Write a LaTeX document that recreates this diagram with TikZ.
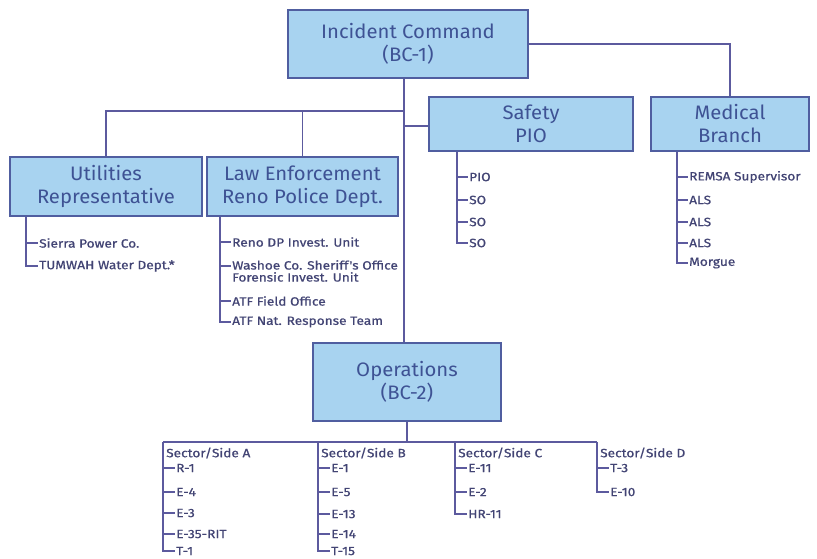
\documentclass[tikz,border=0pt]{standalone}
\usepackage{fontspec}
\setmainfont{Fira Sans}
\newfontfamily\boxfont[FakeStretch=1.04]{Fira Sans}
\newfontfamily\itemfont[FakeStretch=1.14,FakeBold=0.7]{Fira Sans}
\definecolor{boxfill}{RGB}{168,211,240}
\definecolor{boxline}{RGB}{80,94,160}
\definecolor{boxtext}{RGB}{62,82,148}
\definecolor{linecol}{RGB}{92,90,158}
\definecolor{itemtext}{RGB}{66,68,116}
\begin{document}
\begin{tikzpicture}[x=1pt,y=-1pt,
  box/.style={draw=boxline,line width=1.6pt,fill=boxfill,text=boxtext,align=center,
    font=\boxfont\fontsize{19.5}{23}\selectfont,inner sep=0pt},
  item/.style={anchor=west,inner sep=1pt,text=itemtext,font=\itemfont\fontsize{12}{12}\selectfont},
  sect/.style={anchor=west,inner sep=1pt,text=itemtext,font=\itemfont\fontsize{12}{13}\selectfont},
  conn/.style={draw=linecol,line width=1.2pt}]
\useasboundingbox (0,0) rectangle (817,558);
\fill[white] (0,0) rectangle (817,558);

% boxes
\node[box,minimum width=240pt,minimum height=68pt] (ic) at (408,44) {Incident Command\\(BC-1)};
\node[box,minimum width=192pt,minimum height=59pt] (util) at (106,186.5) {Utilities\\Representative};
\node[box,minimum width=191pt,minimum height=59pt] (law) at (302.5,186.5) {Law Enforcement\\Reno Police Dept.};
\node[box,minimum width=204pt,minimum height=54pt] (safety) at (531,124) {Safety\\PIO};
\node[box,minimum width=158pt,minimum height=54pt] (med) at (730,124) {Medical\\Branch};
\node[box,minimum width=188pt,minimum height=78pt] (ops) at (407,382) {Operations\\(BC-2)};

% main connectors
\coordinate (trunk) at (404,0);
\coordinate (j1) at (404,111);
\coordinate (j2) at (404,126);
\draw[conn] (ic.south -| trunk) -- (ops.north -| trunk);
\draw[conn] (util.north) |- (j1);
\draw[conn] (law.north) -- (law.north |- j1);
\draw[conn] (j2) -- (safety.west |- j2);
\draw[conn] (ic.east) -| (med.north);

% Utilities items
\coordinate (us) at (26,0);
\node[item] (u1) at (38,243) {Sierra Power Co.};
\node[item] (u2) at (38,266) {TUMWAH Water Dept.*};
\draw[conn] (util.south -| us) |- (u2.west);
\draw[conn] (us |- u1.west) -- (u1.west);

% Law items
\coordinate (ls) at (220,0);
\node[item] (l1) at (231,242) {Reno DP Invest. Unit};
\node[item,anchor=north west,align=left] (l2) at (231,259) {Washoe Co. Sheriff's Office\\Forensic Invest. Unit};
\coordinate (l2t) at (231,266);
\node[item] (l3) at (231,301) {ATF Field Office};
\node[item] (l4) at (231,322) {ATF Nat. Response Team};
\draw[conn] (law.south -| ls) |- (l4.west);
\draw[conn] (ls |- l1.west) -- (l1.west);
\draw[conn] (ls |- l2t) -- (l2t);
\draw[conn] (ls |- l3.west) -- (l3.west);

% Safety items
\coordinate (ss) at (457,0);
\node[item] (s1) at (468,177) {PIO};
\node[item] (s2) at (468,200) {SO};
\node[item] (s3) at (468,222) {SO};
\node[item] (s4) at (468,243) {SO};
\draw[conn] (safety.south -| ss) |- (s4.west);
\foreach \n in {s1,s2,s3} \draw[conn] (ss |- \n.west) -- (\n.west);

% Medical items
\coordinate (ms) at (677,0);
\node[item] (m1) at (688,177) {REMSA Supervisor};
\node[item] (m2) at (688,200) {ALS};
\node[item] (m3) at (688,222) {ALS};
\node[item] (m4) at (688,243) {ALS};
\node[item] (m5) at (688,263) {Morgue};
\draw[conn] (med.south -| ms) |- (m5.west);
\foreach \n in {m1,m2,m3,m4} \draw[conn] (ms |- \n.west) -- (\n.west);

% Operations sectors
\coordinate (bar) at (0,442);
\coordinate (sa) at (163,442);
\coordinate (sb) at (318,442);
\coordinate (sc) at (455,442);
\coordinate (sd) at (597,442);
\draw[conn] (ops.south) -- (ops.south |- bar);
\draw[conn] (sa) -- (sd);

\node[sect] (la) at (165,453) {Sector/Side A};
\node[sect] (lb) at (320,453) {Sector/Side B};
\node[sect] (lc) at (457,453) {Sector/Side C};
\node[sect] (ld) at (599,453) {Sector/Side D};

\node[item] (a1) at (175,468) {R-1};
\node[item] (a2) at (175,492) {E-4};
\node[item] (a3) at (175,513) {E-3};
\node[item] (a4) at (175,534) {E-35-RIT};
\node[item] (a5) at (175,551) {T-1};
\draw[conn] (sa) |- (a5.west);
\foreach \n in {a1,a2,a3,a4} \draw[conn] (sa |- \n.west) -- (\n.west);

\node[item] (b1) at (330,468) {E-1};
\node[item] (b2) at (330,492) {E-5};
\node[item] (b3) at (330,514) {E-13};
\node[item] (b4) at (330,534) {E-14};
\node[item] (b5) at (330,551) {T-15};
\draw[conn] (sb) |- (b5.west);
\foreach \n in {b1,b2,b3,b4} \draw[conn] (sb |- \n.west) -- (\n.west);

\node[item] (c1) at (467,468) {E-11};
\node[item] (c2) at (467,492) {E-2};
\node[item] (c3) at (467,514) {HR-11};
\draw[conn] (sc) |- (c3.west);
\foreach \n in {c1,c2} \draw[conn] (sc |- \n.west) -- (\n.west);

\node[item] (d1) at (609,468) {T-3};
\node[item] (d2) at (609,492) {E-10};
\draw[conn] (sd) |- (d2.west);
\draw[conn] (sd |- d1.west) -- (d1.west);
\end{tikzpicture}
\end{document}
